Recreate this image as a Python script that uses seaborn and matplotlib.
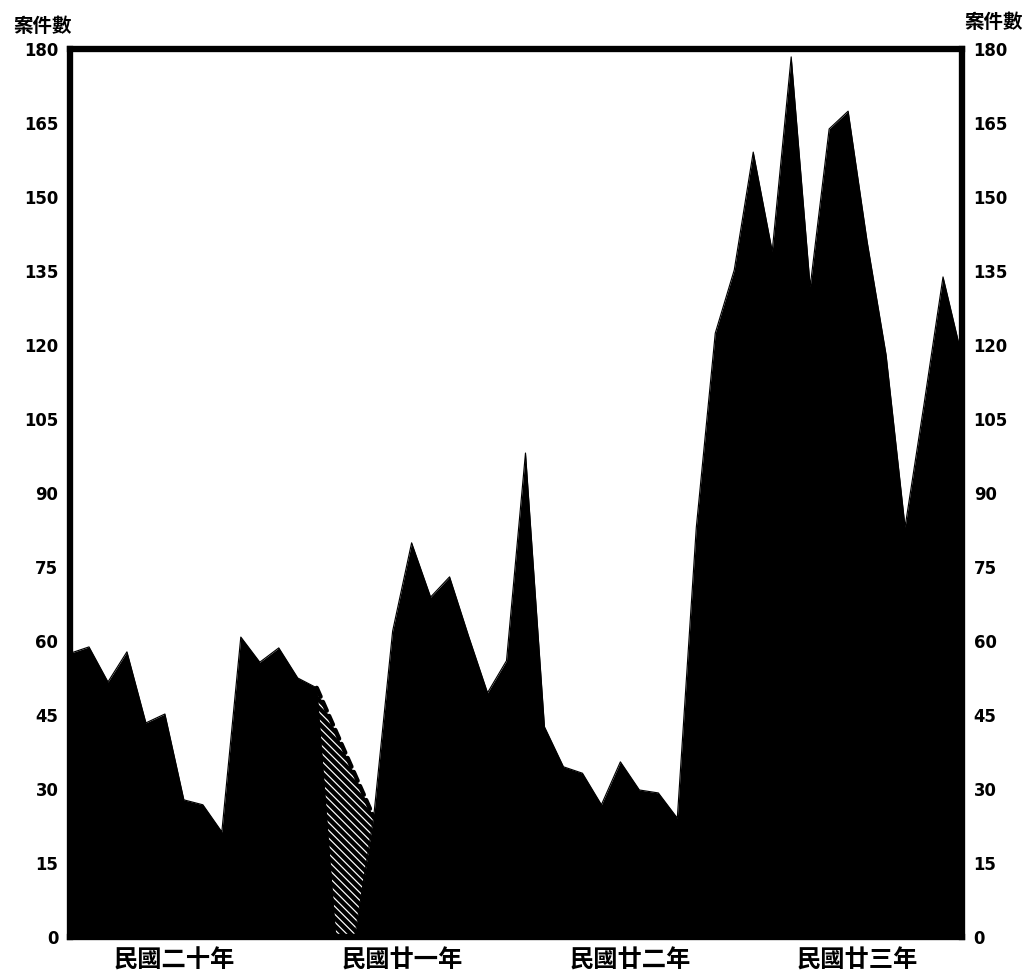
import numpy as np
import matplotlib
matplotlib.use("Agg")
import matplotlib.pyplot as plt
import seaborn as sns

# ---- data (monthly case counts, 民國二十年 – 民國廿三年) ----
years = ["民國二十年", "民國廿一年", "民國廿二年", "民國廿三年"]
cases_y20 = [57.5, 58.8, 51.7, 57.8, 43.4, 45.2, 27.8, 26.8, 21.3, 60.8, 55.7, 58.6]
cases_y21 = [52.5, 50.5, np.nan, np.nan, 24.3, 62.0, 79.9, 68.9, 73.0, 61.0, 49.5, 56.0]
cases_y22 = [98.1, 42.6, 34.5, 33.2, 26.8, 35.5, 29.8, 29.2, 24.1, 83.0, 122.4, 135.2]
cases_y23 = [159.1, 139.0, 178.4, 131.8, 163.8, 167.4, 141.0, 118.0, 83.1, 108.0, 133.8, 117.6]
y_ticks = list(range(0, 181, 15))
y_title = "案件數"

cases = np.array(cases_y20 + cases_y21 + cases_y22 + cases_y23, dtype=float)
months = np.arange(len(cases))

# ---- style ----
sns.set_theme(style="white")
plt.rcParams["font.family"] = ["Noto Sans CJK TC", "DejaVu Sans"]
plt.rcParams["hatch.linewidth"] = 4.4
plt.rcParams["hatch.color"] = "black"
plt.rcParams["text.color"] = "black"

DPI = 70
fig = plt.figure(figsize=(1027 / DPI, 980 / DPI), dpi=DPI, facecolor="white")
ax = fig.add_axes([70 / 1027, 43 / 980, 892 / 1027, 888 / 980])
ax.set_facecolor("white")

# missing months: hatched estimate under a dashed line
missing = np.where(np.isnan(cases))[0]
g0, g1 = missing.min() - 1, missing.max() + 1
gx = months[g0:g1 + 1]
gy = np.interp(gx, [g0, g1], [cases[g0], cases[g1]])
ax.fill_between(gx, gy, 0, facecolor="white", edgecolor="black",
                hatch="\\\\\\", linewidth=0, zorder=1)

# black area
fill_vals = np.nan_to_num(cases, nan=0.0)
ax.fill_between(months, fill_vals, 0, color="black", linewidth=0, zorder=2)
sns.lineplot(x=months, y=fill_vals, color="black", linewidth=1.2, ax=ax, zorder=2)

ax.plot(gx, gy, color="black", linewidth=4.5, linestyle=(0, (2.2, 1.3)),
        dash_capstyle="round", zorder=3)

ax.set_xlim(months[0], months[-1])
ax.set_ylim(y_ticks[0], y_ticks[-1])

ax.set_yticks(y_ticks)
ax.set_yticklabels([str(t) for t in y_ticks], fontfamily="DejaVu Sans",
                   fontweight="bold", fontsize=17)
ax.tick_params(axis="y", left=False, right=False, labelleft=True,
               labelright=True, length=0, pad=12, labelcolor="black")
for lab in ax.get_yticklabels():
    lab.set_fontfamily("DejaVu Sans")

centers = np.arange(len(years)) * 12 + 5.5
ax.set_xticks(centers)
ax.set_xticklabels(years, fontsize=25, fontweight="bold")
ax.tick_params(axis="x", bottom=False, length=0, pad=12, labelcolor="black")

ax.set_xlabel("")
ax.set_ylabel("")
ax.grid(False)

for side in ["left", "right", "top", "bottom"]:
    ax.spines[side].set_visible(True)
    ax.spines[side].set_color("black")
    ax.spines[side].set_linewidth(6.5)
    ax.spines[side].set_zorder(5)

fig.text(42 / 1027, 1 - 27 / 980, y_title, ha="center", va="center",
         fontsize=20, fontweight="bold", color="black")
fig.text(993 / 1027, 1 - 23 / 980, y_title, ha="center", va="center",
         fontsize=20, fontweight="bold", color="black")

fig.savefig("out.png", dpi=DPI, facecolor="white")
